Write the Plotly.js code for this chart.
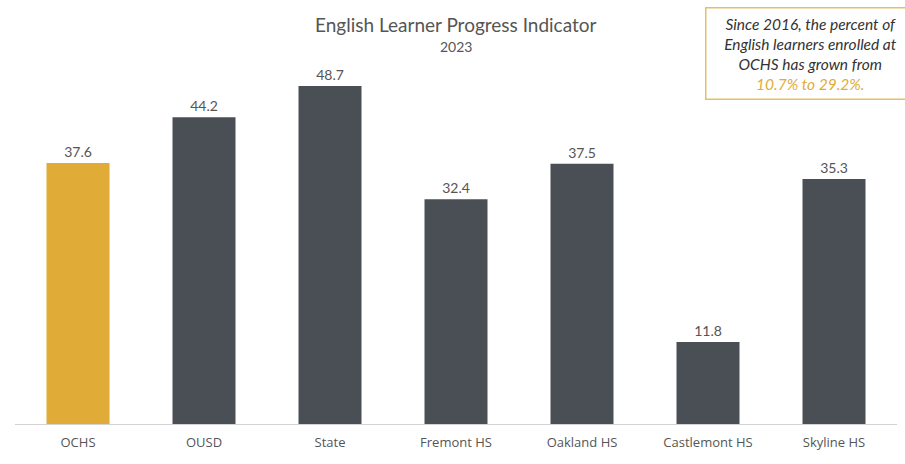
<!DOCTYPE html>
<html><head><meta charset="utf-8">
<script src="https://cdn.plot.ly/plotly-3.0.1.min.js"></script>
<style>html,body{margin:0;padding:0;background:#fff;}#c{width:905px;height:464px;}</style>
</head><body><div id="c"></div>
<script>
const categories = ["OCHS","OUSD","State","Fremont HS","Oakland HS","Castlemont HS","Skyline HS"];
const values = [37.6, 44.2, 48.7, 32.4, 37.5, 11.8, 35.3];
const labels = ["37.6","44.2","48.7","32.4","37.5","11.8","35.3"];
const colors = ["#E0AC37","#4A4E55","#4A4E55","#4A4E55","#4A4E55","#4A4E55","#4A4E55"];

const trace = {
  type: 'bar', x: categories, y: values, text: labels,
  textposition: 'outside', cliponaxis: false,
  textfont: {family: 'Lato', size: 14, color: '#555'},
  marker: {color: colors}, hoverinfo: 'none'
};
const layout = {
  width: 905, height: 464,
  margin: {l: 15, r: 8, t: 30, b: 40},
  paper_bgcolor: '#fff', plot_bgcolor: '#fff',
  bargap: 0.5, showlegend: false,
  xaxis: {showline: true, linecolor: '#d3d3d3', linewidth: 1, ticks: 'outside', ticklen: 6, tickcolor: 'rgba(0,0,0,0)',
    tickfont: {family: 'Open Sans', size: 13, color: '#555'}},
  yaxis: {range: [0, 56.77], visible: false, showgrid: false, zeroline: false},
  annotations: [
    {xref: 'paper', yref: 'paper', x: 0.5, y: 1.013, xanchor: 'center', yanchor: 'middle',
     text: 'English Learner Progress Indicator', showarrow: false,
     font: {family: 'Lato', size: 19, color: '#555'}},
    {xref: 'paper', yref: 'paper', x: 0.5, y: 0.957, xanchor: 'center', yanchor: 'middle',
     text: '2023', showarrow: false,
     font: {family: 'Lato', size: 14, color: '#555'}},
    {xref: 'paper', yref: 'paper', x: 0.782, y: 1.058, xanchor: 'left', yanchor: 'top',
     text: '<i>Since 2016, the percent of<br>English learners enrolled at<br>OCHS has grown from<br><span style="color:#E0AC37">10.7% to 29.2%.</span></i>',
     showarrow: false, align: 'center', bordercolor: '#E6BE63', borderwidth: 1.5, borderpad: 6,
     bgcolor: '#fff', width: 196,
     font: {family: 'Lato', size: 15.5, color: '#333'}}
  ]
};
Plotly.newPlot('c', [trace], layout, {displayModeBar: false, staticPlot: true});
</script></body></html>
